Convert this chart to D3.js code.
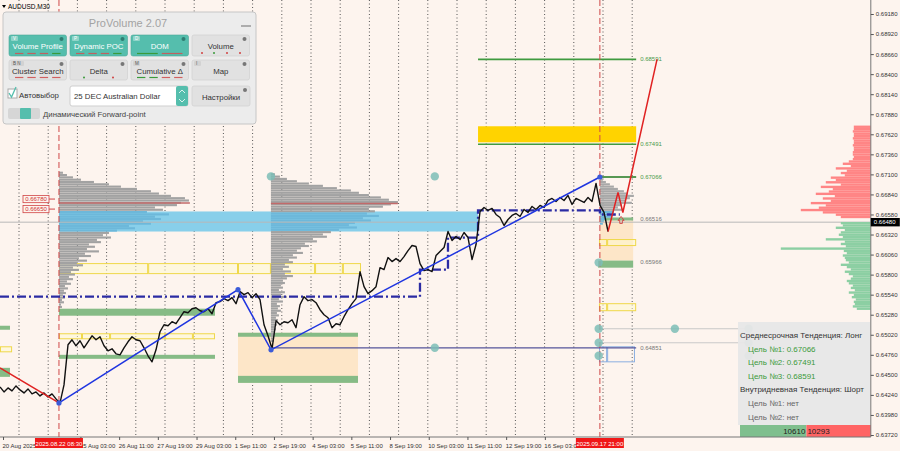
<!DOCTYPE html>
<html><head><meta charset="utf-8">
<script src="https://cdn.jsdelivr.net/npm/d3@7"></script>
<style>html,body{margin:0;padding:0;background:#fdf4ee;}svg{display:block;font-family:"Liberation Sans",Arial,sans-serif;}</style>
</head><body><svg id="c" width="900" height="451"></svg>
<script>
// ---------------- DATA ----------------
const symbol = "AUDUSD,M30";
const closeStepBars = 6.615; // M30 bars between sampled closes
const closes = [
0.64344,0.64279,0.64331,0.64292,0.64357,0.64305,0.64266,0.64318,0.64253,0.64279,
0.64227,0.64266,0.64214,0.64253,0.64188,0.64136,0.6437,0.6489,0.64955,0.64877,
0.64942,0.64851,0.64929,0.65007,0.64955,0.64994,0.64877,0.64812,0.64838,0.64773,
0.6476,0.64851,0.64929,0.64994,0.64955,0.64942,0.64851,0.64747,0.64669,0.64825,
0.65059,0.6515,0.65137,0.65189,0.65163,0.65241,0.65319,0.65306,0.65358,0.65371,
0.65332,0.65319,0.65358,0.65293,0.65436,0.65449,0.65488,0.65462,0.65501,0.65423,
0.65579,0.6554,0.65566,0.65501,0.65553,0.65475,0.6515,0.65007,0.64838,0.65202,
0.6515,0.65189,0.65176,0.65215,0.65111,0.6541,0.65514,0.65462,0.65475,0.65436,
0.65345,0.6528,0.65241,0.65111,0.65163,0.6515,0.65254,0.65345,0.65423,0.65488,
0.65839,0.65644,0.65553,0.65592,0.65644,0.65891,0.65865,0.66021,0.65969,0.66008,
0.65969,0.66034,0.66112,0.66177,0.66164,0.65943,0.65852,0.65865,0.65839,0.66047,
0.66099,0.66151,0.66359,0.66242,0.66294,0.66255,0.66346,0.66281,0.65995,0.6619,
0.66619,0.66671,0.66632,0.66658,0.6658,0.66541,0.66437,0.66515,0.66567,0.66593,
0.66554,0.66645,0.66606,0.66684,0.66645,0.66697,0.66671,0.66762,0.66788,0.66749,
0.66801,0.66762,0.66827,0.6671,0.66788,0.66762,0.66736,0.66801,0.66749,0.66983,
0.66697,0.66606,0.66359];
const currentPrice = 0.66480;
const priceTicks = [0.6918,0.6892,0.6866,0.6840,0.6814,0.6788,0.6762,0.6736,0.6710,0.6684,0.6658,0.6632,0.6606,0.6580,0.6554,0.6528,0.6502,0.6476,0.6450,0.6424,0.6398,0.6372];
const timeLabels = ["20 Aug 2025","21 Aug 19:00","25 Aug 03:00","26 Aug 11:00","27 Aug 19:00","29 Aug 03:00","1 Sep 11:00","2 Sep 19:00","4 Sep 03:00","5 Sep 11:00","8 Sep 19:00","10 Sep 03:00","11 Sep 11:00","12 Sep 19:00","16 Sep 03:00","17 Sep 11:00"];
const firstLabelBar = 5, barsPerLabel = 64;
const markerBars = [97.5, 992];
const markerLabels = ["2025.08.22 08:30","2025.09.17 21:00"];

// zigzags (bar, price)
const zigBlue = [[97.5,0.64136],[393.6,0.65605],[448.2,0.64825],[992,0.67066]];
const zigRedPast = [[0,0.64591],[97.5,0.64136]];
const zigRedForecast = [[1005.5,0.66359],[1022,0.66866],[1030,0.66606],[1086.5,0.68591]];
const dashDotLevel = [[0,0.65514],[694.5,0.65514],[694.5,0.65865],[740.8,0.65865],[740.8,0.66281],[790.5,0.66281],[790.5,0.66632],[992,0.66632],[992,0.6658],[1025,0.6658]];

// zones [bar0, bar1, priceTop, priceBottom]
const orangeZones = [[393.6,592,0.65046,0.64396],[992,1047,0.66502,0.65982]];
const greenZones = [[97.5,355.5,0.65358,0.65267],[97.5,355.5,0.6476,0.64708],[0,16.5,0.65137,0.65085],[0,16.5,0.64591,0.64474],
  [393.6,592,0.65046,0.64994],[393.6,592,0.64487,0.64396],[992,1047,0.66541,0.66502],[989,1047,0.65982,0.6589]];
const yellowRows = [
  {cuts:[97.5,245,393.6,448,521,567,597], top:0.65943, bottom:0.65813},
  {cuts:[97.5,135.6,182,273,319,355.5], top:0.65033, bottom:0.64968},
  {cuts:[0,20], top:0.64864, bottom:0.64799},
  {cuts:[990.5,1004,1052], top:0.66255, bottom:0.66177},
  {cuts:[990.5,1004,1052], top:0.65423, bottom:0.65332}];
const blueBoxes = [{cuts:[990.5,1004,1050], top:0.64864, bottom:0.64669}];
const valueBand = [97.5,790.5,0.66619,0.66359];
const goldZone = [790.5,1052,0.67724,0.67516];

// target levels
const greenTargets = [[790.5,1052,0.68591],[790.5,1052,0.67491],[992,1052,0.67066]];
const greyTargets = [[992,1052,0.66516],[992,1052,0.65966],[448,1052,0.64851]];
const leftPriceTags = [0.66780,0.66650];

// teal anchor dots and helper lines
const tealDots = [[448,0.67074],[719,0.67074],[990,0.65956],[990,0.65098],[1116,0.65098],[990,0.64916],[990,0.64747],[1238,0.65098],[1238,0.64916],[1238,0.64747],[719,0.64851]];
const helperLines = [[990,1238,0.65098],[990,1238,0.64916]];

// volume profiles (volume per 0.0003 price step from top)
const profileStep = 0.0003;
const profile1 = {bar:97.5, top:0.6712, poc:0.6673, pocEnd:314, vols:[4,8,14,22,35,50,62,78,92,100,112,126,130,122,118,96,104,88,110,96,102,84,92,70,76,58,50,44,52,38,42,30,36,28,40,26,32,20,28,18,24,14,20,12,16,10,14,8,12,6,9,5,7,4,6,3,5,2,3]};
const profile2 = {bar:448, top:0.6710, poc:0.66723, pocEnd:658, vols:[4,9,16,26,38,52,66,80,88,98,110,118,127,120,112,98,104,96,108,92,100,84,78,86,68,60,52,56,42,46,34,38,30,26,32,22,26,18,22,14,18,12,20,14,22,16,12,14,10,12,8,14,10,16,8,12,6,9,7,10,6,8,5,7,4,6,4,5,3,4,3,2,3]};
const profile3 = {bar:992, top:0.6703, vols:[3,6,10,14,18,24,28,34,30,26,32,22,18,24,14,10,12,6,4,3]};

// DOM (order book) volumes per 0.0003 step
const domAskTop = 0.6772;
const domAsk = [17,17,18,17,17,18,17,17,18,17,17,18,18,17,18,22,28,20,35,24,30,26,40,35,45,30,50,38,42,55,36,48,40,60,45,52,70,48,35,30];
const domBidTop = 0.6647;
const domBid = [30,28,35,26,30,32,28,45,26,30,25,90,27,24,28,26,25,22,30,24,20,26,22,18,20,24,22,18,20,16,22,17,19,15,17,16,18,14];
const buyVolume = 10610, sellVolume = 10293;

const infoLines = [
  {t:"Среднесрочная Тенденция: Лонг", c:"#333", indent:0},
  {t:"Цель №1: 0.67066", c:"#3a9a3a", indent:1},
  {t:"Цель №2: 0.67491", c:"#3a9a3a", indent:1},
  {t:"Цель №3: 0.68591", c:"#3a9a3a", indent:1},
  {t:"Внутридневная Тенденция: Шорт", c:"#333", indent:0},
  {t:"Цель №1: нет", c:"#666", indent:1},
  {t:"Цель №2: нет", c:"#666", indent:1}];

const panelRow1 = ["Volume Profile","Dynamic POC","DOM","Volume"];
const panelRow2 = ["Cluster Search","Delta","Cumulative Δ","Map"];
const row1Badges = ["V","P","D",""], row2Badges = ["B N","","M","I"];
const row1Active = [true,true,true,false];

// ---------------- SCALES ----------------
const svg = d3.select("#c");
const W = 900, H = 451, PR = 870.8, PB = 437;
const x = d3.scaleLinear().domain([0,1440]).range([0,PR]);
const y = d3.scaleLinear().domain([0.6372,0.6918]).range([435,14]);
const volX = d3.scaleLinear().domain([0,100]).range([0,100]);
const stepPx = y(0) - y(profileStep);

svg.append("rect").attr("width",W).attr("height",H).attr("fill","#fdf4ee");
svg.append("defs").append("clipPath").attr("id","plot").append("rect").attr("width",PR).attr("height",PB);
const g = svg.append("g").attr("clip-path","url(#plot)");

// grid dotted verticals
const gridBars = d3.range(22).map(k => x.invert(19 + 29.2*k));
g.selectAll(".grid").data(gridBars).join("line")
  .attr("x1",d=>x(d)).attr("x2",d=>x(d)).attr("y1",0).attr("y2",PB)
  .attr("stroke","#555").attr("stroke-width",1).attr("stroke-dasharray","1,2.5");

// zones
function zone(d, fill, stroke){
  return g.append("rect").attr("x",x(d[0])).attr("width",x(d[1])-x(d[0]))
    .attr("y",y(d[2])).attr("height",y(d[3])-y(d[2])).attr("fill",fill).attr("stroke",stroke||"none");
}
orangeZones.forEach(d=>zone(d,"#fde6c8"));
greenZones.forEach(d=>zone(d,"#86bb86"));
zone(valueBand,"#88cfea");
zone(goldZone,"#ffd300");
function boxRow(r, stroke, fill){
  for(let i=0;i<r.cuts.length-1;i++){
    g.append("rect").attr("x",x(r.cuts[i])+0.5).attr("width",x(r.cuts[i+1])-x(r.cuts[i])-1)
     .attr("y",y(r.top)).attr("height",y(r.bottom)-y(r.top))
     .attr("fill",fill).attr("stroke",stroke).attr("stroke-width",1);
  }
}
yellowRows.forEach(r=>boxRow(r,"#efd84a","rgba(255,250,205,0.5)"));
blueBoxes.forEach(r=>boxRow(r,"#8aaee0","none"));

// volume profiles
function drawProfile(p, color){
  g.append("g").selectAll("rect").data(p.vols).join("rect")
    .attr("x",x(p.bar)).attr("width",d=>volX(d))
    .attr("y",(d,i)=>y(p.top - i*profileStep) - stepPx/2)
    .attr("height",stepPx*0.92)
    .attr("fill",(d,i)=>{const pr=p.top-i*profileStep; return (pr<=valueBand[2]&&pr>=valueBand[3])?"#6db8da":color;});
  if(p.poc) g.append("line").attr("x1",x(p.bar)).attr("x2",x(p.pocEnd)).attr("y1",y(p.poc)).attr("y2",y(p.poc))
    .attr("stroke","#c26a6a").attr("stroke-width",1.5);
}
drawProfile(profile1,"#a2a2a2");
drawProfile(profile2,"#a2a2a2");
drawProfile(profile3,"#a8a8a8");

// current price line
g.append("line").attr("x1",0).attr("x2",PR).attr("y1",y(currentPrice)).attr("y2",y(currentPrice)).attr("stroke","#b8b8b8");

// helper lines
helperLines.forEach(d=>g.append("line").attr("x1",x(d[0])).attr("x2",x(d[1])).attr("y1",y(d[2])).attr("y2",y(d[2])).attr("stroke","#c9c9c9"));

// target levels
greenTargets.forEach((d,i)=>g.append("line").attr("x1",x(d[0])).attr("x2",x(d[1])).attr("y1",y(d[2])).attr("y2",y(d[2]))
  .attr("stroke",i==2?"#1f7a1f":"#3f9a3f").attr("stroke-width",1.6));
greyTargets.forEach((d,i)=>g.append("line").attr("x1",x(d[0])).attr("x2",x(d[1])).attr("y1",y(d[2])).attr("y2",y(d[2]))
  .attr("stroke",i==2?"#55559a":"none").attr("stroke-width",1.2));
const lvlFmt = d3.format(".5f");
greenTargets.forEach(d=>g.append("text").attr("x",x(d[1])+4).attr("y",y(d[2])+2).attr("font-size",6).attr("fill","#4a9a4a").text(lvlFmt(d[2])));
greyTargets.forEach(d=>g.append("text").attr("x",x(d[1])+4).attr("y",y(d[2])+2).attr("font-size",6).attr("fill","#777").text(lvlFmt(d[2])));

// red markers
markerBars.forEach(b=>g.append("line").attr("x1",x(b)).attr("x2",x(b)).attr("y1",0).attr("y2",PB)
  .attr("stroke","#cf4848").attr("stroke-width",1).attr("stroke-dasharray","6,3"));

// lines
const line = d3.line().x(d=>x(d[0])).y(d=>y(d[1]));
g.append("path").attr("d",line(dashDotLevel)).attr("fill","none").attr("stroke","#2b2ba3").attr("stroke-width",2.3).attr("stroke-dasharray","9,3,2,3");
g.append("path").attr("d",line(closes.map((c,i)=>[i*closeStepBars,c]))).attr("fill","none").attr("stroke","#111").attr("stroke-width",1.4).attr("stroke-linejoin","round");
g.append("path").attr("d",line(zigBlue)).attr("fill","none").attr("stroke","#1f35e0").attr("stroke-width",1.5);
g.append("path").attr("d",line(zigRedPast)).attr("fill","none").attr("stroke","#e02222").attr("stroke-width",1.5);
g.append("path").attr("d",line(zigRedForecast)).attr("fill","none").attr("stroke","#e02222").attr("stroke-width",1.5);
g.selectAll(".zv").data(zigBlue).join("circle").attr("cx",d=>x(d[0])).attr("cy",d=>y(d[1])).attr("r",2.6).attr("fill","#3b5bd8");
// small red up arrow at 0.66516
{const ax=x(1027), ay=y(0.66516);
 g.append("path").attr("d",`M${ax-3},${ay+1}L${ax},${ay-3}L${ax+3},${ay+1}L${ax+1.3},${ay+1}L${ax+1.3},${ay+4}L${ax-1.3},${ay+4}L${ax-1.3},${ay+1}Z`).attr("fill","none").attr("stroke","#d04040").attr("stroke-width",0.9);}

// teal dots
g.selectAll(".td").data(tealDots).join("circle").attr("cx",d=>x(d[0])).attr("cy",d=>y(d[1])).attr("r",4.2).attr("fill","#7dbdb6").attr("opacity",0.85);

// left price tags
leftPriceTags.forEach(p=>{
  const yy=y(p);
  g.append("rect").attr("x",23).attr("y",yy-3.6).attr("width",26).attr("height",7.2).attr("fill","#fdf4ee").attr("stroke","#d04545").attr("stroke-width",0.8);
  g.append("line").attr("x1",49).attr("x2",55).attr("y1",yy).attr("y2",yy).attr("stroke","#d04545");
  g.append("text").attr("x",36).attr("y",yy+2).attr("text-anchor","middle").attr("font-size",6).attr("fill","#d03030").text(lvlFmt(p));
});

// DOM
const domStep = profileStep, domH = stepPx*0.85;
g.append("g").selectAll("rect").data(domAsk).join("rect").attr("x",d=>PR-volX(d)).attr("width",d=>volX(d))
  .attr("y",(d,i)=>y(domAskTop-i*domStep)-domH/2).attr("height",domH+0.4).attr("fill","#ff8585");
g.append("g").selectAll("rect").data(domBid).join("rect").attr("x",d=>PR-volX(d)).attr("width",d=>volX(d))
  .attr("y",(d,i)=>y(domBidTop-i*domStep)-domH/2).attr("height",domH+0.4).attr("fill","#8ccfa3");

// info panel
const ip = svg.append("g");
ip.append("rect").attr("x",738).attr("y",322).attr("width",132).attr("height",103).attr("fill","#e7e7e7").attr("opacity",0.95);
infoLines.forEach((l,i)=>ip.append("text").attr("x",740+l.indent*8).attr("y",338+i*13.6).attr("font-size",8).attr("fill",l.c).text(l.t));
const vs = d3.scaleLinear().domain([0,buyVolume+sellVolume]).range([740,PR]);
ip.append("rect").attr("x",vs(0)).attr("y",425).attr("width",vs(buyVolume)-vs(0)).attr("height",12).attr("fill","#7fbf8e");
ip.append("rect").attr("x",vs(buyVolume)).attr("y",425).attr("width",vs(buyVolume+sellVolume)-vs(buyVolume)).attr("height",12).attr("fill","#ff6464");
ip.append("text").attr("x",vs(buyVolume)-1).attr("y",434).attr("text-anchor","end").attr("font-size",8).attr("fill","#222").text(buyVolume);
ip.append("text").attr("x",vs(buyVolume)+1).attr("y",434).attr("font-size",8).attr("fill","#222").text(sellVolume);

// axes
svg.append("line").attr("x1",PR).attr("x2",PR).attr("y1",0).attr("y2",PB).attr("stroke","#777");
svg.append("line").attr("x1",0).attr("x2",PR).attr("y1",PB).attr("y2",PB).attr("stroke","#777");
const yAxis = svg.append("g").attr("transform",`translate(${PR},0)`)
  .call(d3.axisRight(y).tickValues(priceTicks).tickSize(3).tickFormat(lvlFmt));
yAxis.select(".domain").remove();
yAxis.selectAll("line").attr("stroke","#555");
yAxis.selectAll("text").attr("font-size",6).attr("fill","#333").attr("x",5).attr("font-family","Liberation Sans, Arial");
svg.append("rect").attr("x",PR).attr("y",y(currentPrice)-4.2).attr("width",29).attr("height",8.4).attr("fill","#000");
svg.append("text").attr("x",PR+3).attr("y",y(currentPrice)+2.2).attr("font-size",6).attr("fill","#fff").text(lvlFmt(currentPrice));

// time axis: labels fully hidden beneath the red marker tags are not drawn
const labelTicks = timeLabels.map((t,i)=>({bar:firstLabelBar+i*barsPerLabel, t}))
  .filter(d=>!markerBars.some(m=>Math.abs(x(d.bar)-x(m))<20));
const xAxis = svg.append("g").attr("transform",`translate(0,${PB})`)
  .call(d3.axisBottom(x).tickValues(labelTicks.map(d=>d.bar)).tickSize(3).tickFormat((d,i)=>labelTicks[i].t));
xAxis.select(".domain").remove();
xAxis.selectAll("line").attr("stroke","#555");
xAxis.selectAll("text").attr("font-size",6).attr("fill","#333").attr("text-anchor","start").attr("dx",-1).attr("y",7).attr("font-family","Liberation Sans, Arial");
markerBars.forEach((b,i)=>{
  svg.append("rect").attr("x",x(b)-24).attr("y",PB+1).attr("width",48).attr("height",10).attr("fill","#f01818");
  svg.append("text").attr("x",x(b)).attr("y",PB+8.5).attr("text-anchor","middle").attr("font-size",6).attr("fill","#fff").text(markerLabels[i]);
});

// symbol
svg.append("path").attr("d","M2,5L6,5L4,8Z").attr("fill","#000");
svg.append("text").attr("x",8).attr("y",9).attr("font-size",6.5).attr("fill","#000").text(symbol);

// ProVolume panel
const P = svg.append("g");
P.append("rect").attr("x",3).attr("y",12).attr("width",253).attr("height",112).attr("rx",3).attr("fill","#ececec").attr("stroke","#c6c6c6");
P.append("text").attr("x",128).attr("y",27).attr("text-anchor","middle").attr("font-size",11).attr("fill","#a3a3a3").text("ProVolume 2.07");
P.append("line").attr("x1",241).attr("x2",251).attr("y1",26).attr("y2",26).attr("stroke","#999").attr("stroke-width",1.5);
const bx = [9,70,131,192], bw = 57.5, teal = "#55bead";
function button(xx,yy,w,h,label,active,badge,deco){
  P.append("rect").attr("x",xx).attr("y",yy).attr("width",w).attr("height",h).attr("rx",2)
    .attr("fill",active?teal:"#e1e1e1").attr("stroke",active?"#4aa898":"#cdcdcd").attr("stroke-width",0.6);
  if(badge){ P.append("rect").attr("x",xx+2).attr("y",yy+1).attr("width",badge.length*3+4).attr("height",5).attr("rx",1).attr("fill",active?"rgba(255,255,255,0.35)":"#d2d2d2");
    P.append("text").attr("x",xx+4).attr("y",yy+5.2).attr("font-size",4.5).attr("fill",active?"#fff":"#555").text(badge);}
  P.append("circle").attr("cx",xx+w-5).attr("cy",yy+4).attr("r",2).attr("fill",active?"#2f7d72":"#777");
  P.append("text").attr("x",xx+w/2).attr("y",yy+h/2+3.5).attr("text-anchor","middle").attr("font-size",7.8)
    .attr("fill",active?"#fff":"#333").text(label);
  (deco||[]).forEach((c,i,a)=>{const seg=(w-8)/a.length;
    P.append("line").attr("x1",xx+4+i*seg+2).attr("x2",xx+4+(i+1)*seg-2).attr("y1",yy+h-2.5).attr("y2",yy+h-2.5).attr("stroke",c).attr("stroke-width",1.2);});
}
const decoR1 = [["#c06060","#c06060","#c06060","#3a9a3a"],["#c06060","#c06060","#c06060","#3a9a3a"],["#3a9a3a","#c06060"],null];
panelRow1.forEach((t,i)=>button(bx[i],35,bw,21,t,row1Active[i],row1Badges[i],decoR1[i]));
const decoR2 = [["#d06060","#d06060","#d06060","#d06060"],null,["#3a9a3a","#3a9a3a","#d06060","#d06060"],null];
panelRow2.forEach((t,i)=>button(bx[i],60,bw,20,t,false,row2Badges[i],decoR2[i]));
[[bx[3]+10,"#d04040"],[bx[3]+22,"#3a9a3a"],[bx[3]+35,"#d04040"],[bx[3]+48,"#d04040"]].forEach(d=>P.append("circle").attr("cx",d[0]).attr("cy",53).attr("r",1).attr("fill",d[1]));
P.append("circle").attr("cx",bx[1]+14).attr("cy",77.5).attr("r",1).attr("fill","#3a9a3a");
P.append("circle").attr("cx",bx[1]+43).attr("cy",77.5).attr("r",1).attr("fill","#d04040");
// checkbox
P.append("rect").attr("x",8).attr("y",89).attr("width",9).attr("height",9).attr("fill","#fff").attr("stroke","#aaa");
P.append("path").attr("d","M9,93L11.5,97L16,87").attr("fill","none").attr("stroke",teal).attr("stroke-width",1.3);
P.append("text").attr("x",19).attr("y",97.5).attr("font-size",7.8).attr("fill","#333").text("Автовыбор");
P.append("rect").attr("x",70).attr("y",86).attr("width",118).attr("height",20).attr("rx",2).attr("fill","#fff").attr("stroke","#cfcfcf");
P.append("text").attr("x",74).attr("y",99).attr("font-size",7.8).attr("fill","#333").text("25 DEC Australian Dollar");
P.append("rect").attr("x",176).attr("y",86).attr("width",12).attr("height",20).attr("rx",2).attr("fill",teal);
P.append("path").attr("d","M179,93L182,90L185,93M179,99L182,102L185,99").attr("fill","none").attr("stroke","#fff").attr("stroke-width",0.8);
button(192,86,58,20,"Настройки",false,"",null);
P.append("rect").attr("x",8).attr("y",108).attr("width",32).attr("height",11).attr("rx",2).attr("fill","#d6d6d6");
P.append("rect").attr("x",20).attr("y",108).attr("width",11).attr("height",11).attr("rx",1).attr("fill",teal);
P.append("text").attr("x",43).attr("y",117).attr("font-size",7.8).attr("fill","#444").text("Динамический Forward-point");
</script></body></html>
